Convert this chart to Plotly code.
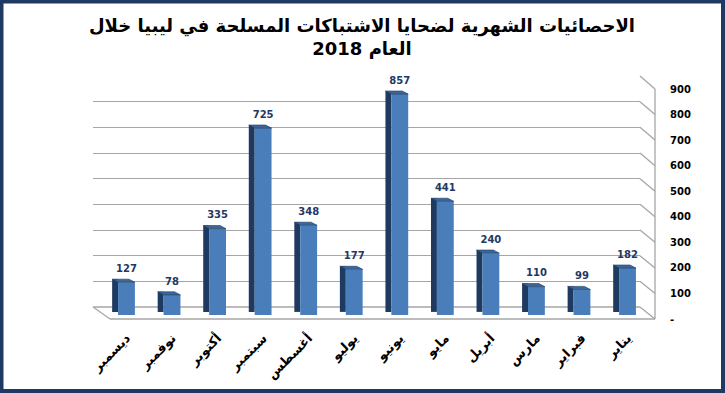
import plotly.graph_objects as go

# ---------------- data ----------------
months = ["يناير", "فبراير", "مارس", "أبريل", "مايو", "يونيو",
          "يوليو", "أغسطس", "سبتمبر", "أكتوبر", "نوفمبر", "ديسمبر"]
victims = [182, 99, 110, 240, 441, 857, 177, 348, 725, 335, 78, 127]
y_ticks = [0, 100, 200, 300, 400, 500, 600, 700, 800, 900]
y_tick_labels = ["-", "100", "200", "300", "400", "500", "600", "700", "800", "900"]
title_text = "الاحصائيات الشهرية لضحايا الاشتباكات المسلحة في ليبيا خلال<br>العام 2018"

idx = list(range(len(months)))

# ---------------- layout geometry (pixels) ----------------
W, H = 725, 393
L, R, T, B = 90, 660, 70, 320


def px(x):
    return (x - L) / (R - L)


def py(y):
    return (B - y) / (B - T)


# planes: back wall, bar plane, front plane (pixel extents)
back_x = (93, 640)
back_y = (307, 76)      # y of 0 and of 900
bar_x = (103.7, 650.3)
bar_y = (315, 83)
front_x = (110, 655)
front_y = (319, 89)

YMAX = 900
FRONT_W = 0.37        # front face width (category units)
SIDE_W = 0.13         # side face width
LIFT = 12             # depth rise in value units
LABEL_GAP = 18        # extra gap above bar for value labels (value units)

BLUE = "#4a7ebb"
DARK = "#1f3a60"
TOPC = "#3d679b"
NAVY_TXT = "#1f3864"

fig = go.Figure()

# invisible trace to create back wall subplot (gridlines)
fig.add_trace(go.Scatter(x=[0], y=[0], mode="markers", marker=dict(opacity=0),
                         xaxis="x", yaxis="y", hoverinfo="skip", showlegend=False))

# side (dark) faces
fig.add_trace(go.Bar(x=idx, y=victims, base=[LIFT] * len(idx), width=SIDE_W,
                     offset=FRONT_W / 2, marker=dict(color=DARK, line=dict(width=0)),
                     xaxis="x2", yaxis="y2", showlegend=False, hoverinfo="skip"))
# front faces
fig.add_trace(go.Bar(x=idx, y=victims, width=FRONT_W,
                     marker=dict(color=BLUE, line=dict(width=0)),
                     xaxis="x2", yaxis="y2", showlegend=False))
# top faces (parallelograms computed from values)
tx, ty = [], []
for i, v in zip(idx, victims):
    tx += [i + FRONT_W / 2, i - FRONT_W / 2, i - FRONT_W / 2 + SIDE_W, i + FRONT_W / 2 + SIDE_W,
           i + FRONT_W / 2, None]
    ty += [v, v, v + LIFT, v + LIFT, v, None]
fig.add_trace(go.Scatter(x=tx, y=ty, mode="lines", fill="toself", fillcolor=TOPC,
                         line=dict(color=DARK, width=0.6), xaxis="x2", yaxis="y2",
                         showlegend=False, hoverinfo="skip"))
# value labels
fig.add_trace(go.Scatter(x=idx, y=[v + LIFT + LABEL_GAP for v in victims], mode="text",
                         text=[str(v) for v in victims], textposition="top center",
                         textfont=dict(family="DejaVu Sans", size=10, color=NAVY_TXT,
                                       weight="bold"),
                         xaxis="x2", yaxis="y2", showlegend=False, hoverinfo="skip",
                         cliponaxis=False))

# front plane trace (for y tick labels)
fig.add_trace(go.Scatter(x=[0], y=[0], mode="markers", marker=dict(opacity=0),
                         xaxis="x3", yaxis="y3", hoverinfo="skip", showlegend=False))

# ---------------- 3D frame lines ----------------
shapes = []
GRID = "#a6a6a6"


def yb(v):
    return back_y[0] + (back_y[1] - back_y[0]) * v / YMAX


def yf(v):
    return front_y[0] + (front_y[1] - front_y[0]) * v / YMAX


for v in y_ticks:
    shapes.append(dict(type="line", xref="paper", yref="paper",
                       x0=px(back_x[1]), y0=py(yb(v)), x1=px(front_x[1]), y1=py(yf(v)),
                       line=dict(color=GRID, width=1.3), layer="below"))
shapes.append(dict(type="line", xref="paper", yref="paper",
                   x0=px(front_x[1]), y0=py(yf(0)), x1=px(front_x[1]), y1=py(yf(YMAX)),
                   line=dict(color=GRID, width=1.3), layer="below"))
# floor
shapes.append(dict(type="line", xref="paper", yref="paper",
                   x0=px(back_x[0]), y0=py(yb(0)), x1=px(front_x[0]), y1=py(yf(0)),
                   line=dict(color=GRID, width=1.3), layer="below"))
shapes.append(dict(type="line", xref="paper", yref="paper",
                   x0=px(front_x[0]), y0=py(yf(0)), x1=px(front_x[1]), y1=py(yf(0)),
                   line=dict(color=GRID, width=1.3), layer="below"))
shapes.append(dict(type="line", xref="paper", yref="paper",
                   x0=px(back_x[0]), y0=py(yb(0)), x1=px(back_x[1]), y1=py(yb(0)),
                   line=dict(color=GRID, width=1.3), layer="below"))
# outer border
shapes.append(dict(type="rect", xref="paper", yref="paper",
                   x0=px(1.5), y0=py(391), x1=px(723), y1=py(1.5),
                   line=dict(color="#1f3864", width=4)))

fig.update_layout(
    width=W, height=H,
    margin=dict(l=L, r=W - R, t=T, b=H - B),
    paper_bgcolor="white", plot_bgcolor="rgba(0,0,0,0)",
    barmode="overlay",
    showlegend=False,
    shapes=shapes,
    annotations=[dict(text=title_text, xref="paper", yref="paper",
                      x=px(362), y=py(37), xanchor="center", yanchor="middle",
                      showarrow=False,
                      font=dict(family="DejaVu Sans", size=18, color="black", weight="bold"))],
    xaxis=dict(domain=[px(back_x[0]), px(back_x[1])], range=[0, 1], visible=False,
               showgrid=False),
    yaxis=dict(domain=[py(back_y[0]), py(back_y[1])], range=[0, YMAX],
               tickvals=y_ticks, showgrid=True, gridcolor=GRID, gridwidth=1.3,
               showticklabels=False, zeroline=False, showline=False, anchor="x"),
    xaxis2=dict(domain=[px(bar_x[0]), px(bar_x[1])], range=[11.5, -0.5],
                tickvals=idx, ticktext=months, tickangle=-45, showgrid=False,
                zeroline=False, showline=False, ticks="", anchor="y2",
                ticklabelstandoff=12,
                tickfont=dict(family="DejaVu Sans", size=13, color="black", weight="bold")),
    yaxis2=dict(domain=[py(bar_y[0]), py(bar_y[1])], range=[0, YMAX], visible=False,
                showgrid=False, anchor="x2"),
    xaxis3=dict(domain=[px(front_x[0]), px(front_x[1])], range=[0, 1], visible=False,
                showgrid=False, anchor="y3"),
    yaxis3=dict(domain=[py(front_y[0]), py(front_y[1])], range=[0, YMAX],
                tickvals=y_ticks, ticktext=y_tick_labels, side="right", anchor="x3",
                showgrid=False, zeroline=False, showline=False, ticks="",
                ticklabelstandoff=14,
                tickfont=dict(family="DejaVu Sans", size=10, color="black", weight="bold")),
)

fig.write_html("out.html", config={"displayModeBar": False},
               post_script="document.body.style.margin='0';")
